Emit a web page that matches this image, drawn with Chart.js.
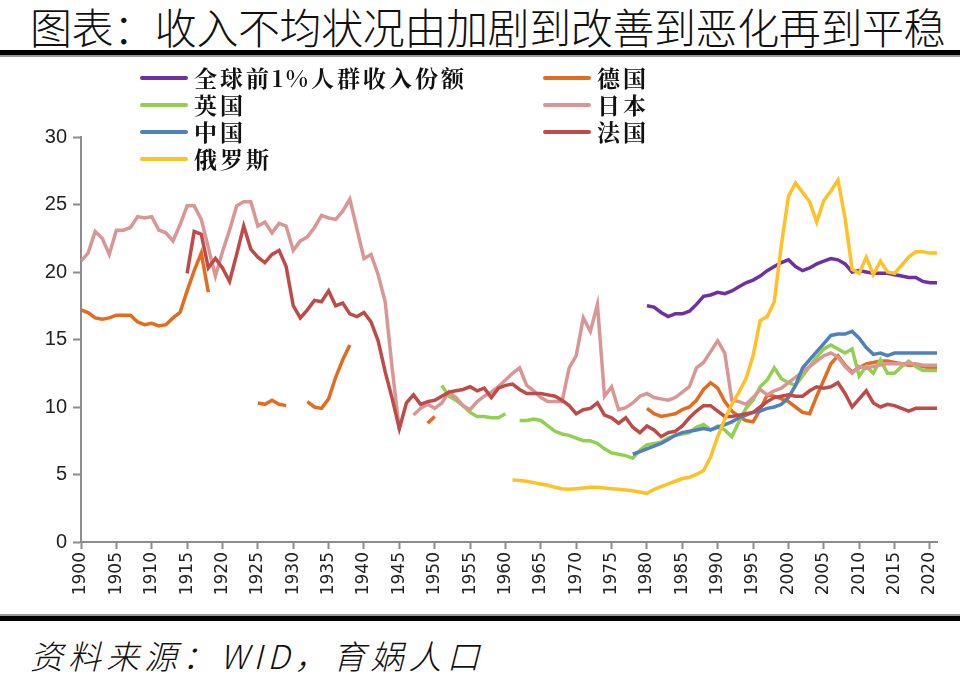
<!DOCTYPE html>
<html>
<head>
<meta charset="utf-8">
<script src="https://cdn.jsdelivr.net/npm/chart.js@4.4.0/dist/chart.umd.min.js"></script>
<style>
  html, body { margin: 0; padding: 0; background: #fff; }
  #page { position: relative; width: 960px; height: 678px; overflow: hidden; background: #fff; }
  #title { position: absolute; left: 30px; top: 5px; font: 300 42px/42px "Noto Sans CJK SC"; letter-spacing: -0.4px; white-space: nowrap; color: #111; }
  .bar { position: absolute; left: 0; width: 960px; }
  #chartBox { position: absolute; left: 0; top: 58px; width: 960px; height: 556px; }
  .lg { position: absolute; height: 26px; display: flex; align-items: center; white-space: nowrap;
        font: bold 23px/26px "Noto Serif CJK SC", "Noto Sans CJK SC"; letter-spacing: 3px; color: #111; }
  .lg i { display: inline-block; width: 48px; height: 4px; border-radius: 2px; margin-right: 6px; }
  #source { position: absolute; left: 30px; top: 635px; font: italic 300 33px/40px "Noto Sans CJK SC"; letter-spacing: 5px; white-space: nowrap; color: #111; }
</style>
</head>
<body>
<div id="page">
  <div id="title">图表：收入不均状况由加剧到改善到恶化再到平稳</div>
  <div class="bar" style="top:50px;height:5px;background:#000"></div>
  <div class="bar" style="top:55px;height:2px;background:#999"></div>
  <div id="chartBox"><canvas id="chart" width="960" height="556"></canvas></div>
  <div id="legend"></div>
  <div class="bar" style="top:614px;height:2px;background:#999"></div>
  <div class="bar" style="top:616px;height:5px;background:#000"></div>
  <div id="source">资料来源：WID，育娲人口</div>
</div>
<script>
// each series: [first year, values...] segments, gaps between segments
const globalTop1 = [[1980, [17.5, 17.4, 17.0, 16.7, 16.9, 16.9, 17.1, 17.6, 18.2, 18.3,
  18.5, 18.4, 18.6, 18.9, 19.2, 19.4, 19.7, 20.1, 20.4, 20.7,
  20.9, 20.4, 20.1, 20.3, 20.6, 20.8, 21.0, 20.9, 20.6, 20.0,
  20.1, 20.0, 19.9, 19.9, 19.9, 19.8, 19.7, 19.6, 19.6, 19.3,
  19.2, 19.2]]]

const germany = [
  [1900, [17.2, 17.0, 16.6, 16.5, 16.6, 16.8, 16.8, 16.8, 16.3, 16.1,
    16.2, 16.0, 16.1, 16.6, 17.0, 18.6, 20.1, 21.4, 18.5]],
  [1925, [10.3, 10.2, 10.5, 10.2, 10.1]],
  [1932, [10.4, 10.0, 9.9, 10.6, 12.2, 13.5, 14.6]],
  [1949, [8.8, 9.3]],
  [1980, [9.9, 9.5, 9.3, 9.4, 9.5, 9.8, 10.0, 10.5, 11.3, 11.8,
    11.4, 10.4, 9.7, 9.3, 9.0, 8.9, 9.8, 10.9, 10.8, 10.6,
    10.4, 10.0, 9.6, 9.5, 10.8, 12.0, 13.2, 13.8, 13.1, 12.6,
    12.9, 13.2, 13.3, 13.4, 13.4, 13.3, 13.2, 13.1, 13.1, 13.0,
    12.9, 12.9]]
]

const uk = [
  [1951, [11.6, 10.8, 10.5, 10.1, 9.6, 9.3, 9.3, 9.2, 9.2, 9.5]],
  [1962, [9.0, 9.0, 9.1, 9.0, 8.6, 8.2, 8.0, 7.9, 7.7, 7.5,
    7.5, 7.3, 6.9, 6.6, 6.5, 6.4, 6.2, 6.8, 7.2, 7.3,
    7.4, 7.7, 7.9, 8.0, 8.1, 8.5, 8.7, 8.3, 8.6, 8.3,
    7.8, 8.9, 9.9, 10.5, 11.5, 12.0, 12.9, 12.1, 11.8, 11.6,
    12.3, 13.0, 13.7, 14.3, 14.6, 14.3, 14.0, 14.3, 12.3, 13.0,
    12.5, 13.5, 12.5, 12.5, 13.0, 13.4, 13.0, 12.7, 12.7, 12.7]]
]

const japan = [
  [1900, [20.8, 21.4, 23.0, 22.5, 21.3, 23.1, 23.1, 23.3, 24.1, 24.0,
    24.1, 23.1, 22.9, 22.3, 23.5, 24.9, 24.9, 23.9, 21.8, 19.7,
    21.5, 23.1, 24.9, 25.2, 25.2, 23.4, 23.7, 22.9, 23.6, 23.4,
    21.6, 22.3, 22.6, 23.3, 24.2, 24.0, 23.9, 24.5, 25.4, 23.2,
    21.0, 21.3, 19.8, 17.8, 12.8, 8.3]],
  [1947, [9.4, 9.9, 10.2, 9.9, 10.3, 11.1, 10.7, 10.1, 9.8, 10.4,
    10.8, 11.1, 11.5, 12.0, 12.5, 12.9, 11.6, 11.2, 10.7, 10.4,
    10.4, 10.4, 12.9, 13.8, 16.6, 15.6, 17.6, 10.8, 11.5, 9.8,
    9.95, 10.3, 10.8, 11.0, 10.7, 10.6, 10.5, 10.7, 11.1, 11.5,
    12.9, 13.3, 14.1, 14.9, 14.0, 10.5, 10.4, 10.2, 10.7, 11.3,
    10.9, 11.2, 11.4, 11.8, 12.2, 12.6, 13.0, 13.4, 13.8, 14.0,
    13.7, 13.0, 12.5, 13.0, 12.9, 13.0, 13.1, 13.2, 13.2, 13.2,
    13.2, 13.2, 13.1, 13.1, 13.1]]
]

const china = [[1978, [6.5, 6.7, 6.9, 7.1, 7.3, 7.6, 7.9, 8.1, 8.2, 8.3,
  8.4, 8.3, 8.5, 8.7, 8.9, 9.2, 9.4, 9.6, 9.7, 9.9,
  10.0, 10.2, 10.7, 11.6, 12.9, 13.5, 14.1, 14.7, 15.3, 15.4,
  15.4, 15.6, 15.1, 14.4, 13.9, 14.0, 13.8, 14.0, 14.0, 14.0,
  14.0, 14.0, 14.0, 14.0]]]

const france = [[1915, [19.9, 23.0, 22.8, 20.3, 21.0, 20.3, 19.3, 21.3, 23.4, 21.7,
  21.1, 20.7, 21.3, 21.6, 20.4, 17.5, 16.6, 17.2, 17.9, 17.8,
  18.6, 17.5, 17.7, 16.9, 16.7, 17.0, 16.3, 14.9, 12.6, 10.6,
  8.4, 10.3, 10.9, 10.2, 10.4, 10.5, 10.8, 11.1, 11.2, 11.3,
  11.5, 11.2, 11.4, 10.7, 11.4, 11.6, 11.7, 11.3, 11.0, 11.0,
  11.0, 10.9, 10.8, 10.5, 10.1, 9.5, 9.8, 9.9, 10.3, 9.4,
  9.2, 8.8, 9.2, 8.5, 8.1, 8.6, 8.3, 7.8, 8.1, 8.2,
  8.6, 9.2, 9.7, 10.1, 10.1, 9.7, 9.3, 9.3, 9.4, 9.5,
  9.6, 10.0, 10.4, 10.7, 10.8, 10.9, 10.8, 10.8, 11.2, 11.5,
  11.4, 11.5, 11.8, 11.0, 10.0, 10.6, 11.2, 10.3, 10.0, 10.2,
  10.1, 9.9, 9.7, 9.9, 9.9, 9.9, 9.9]]]

const russia = [[1961, [4.6, 4.55, 4.5, 4.4, 4.3, 4.2, 4.05, 3.95, 3.9, 3.95,
  4.0, 4.05, 4.05, 4.0, 3.95, 3.9, 3.85, 3.8, 3.7, 3.6,
  3.9, 4.1, 4.3, 4.5, 4.7, 4.8, 5.0, 5.3, 6.3, 7.8,
  9.1, 10.2, 11.1, 12.1, 13.8, 16.4, 16.7, 17.8, 22.0, 25.6,
  26.6, 25.9, 25.2, 23.7, 25.3, 26.0, 26.8, 24.0, 20.2, 19.9,
  21.1, 19.8, 20.8, 20.0, 19.9, 20.5, 21.1, 21.5, 21.5, 21.4,
  21.4]]]

const seriesNames = ['全球前1%人群收入份额', '德国', '英国', '日本', '中国', '法国', '俄罗斯']
const seriesData = [globalTop1, germany, uk, japan, china, france, russia]
const seriesColors = ['#7030A0', '#E36C21', '#92D050', '#D99694', '#4F81BD', '#BE4B48', '#FFC125']

function toPoints(segments) {
  const pts = []
  segments.forEach(([start, vals], k) => {
    if (k > 0) pts.push({ x: start - 0.5, y: null })
    vals.forEach((v, i) => pts.push({ x: start + i, y: v }))
  })
  return pts
}

const axisGray = '#8c8c8c'

const chart = new Chart(document.getElementById('chart').getContext('2d'), {
  type: 'line',
  data: {
    datasets: seriesNames.map((name, i) => ({
      label: name,
      data: toPoints(seriesData[i]),
      borderColor: seriesColors[i],
      backgroundColor: seriesColors[i],
      borderWidth: 3.5,
      pointRadius: 0,
      tension: 0,
      spanGaps: false,
      order: seriesNames.length - i
    }))
  },
  options: {
    responsive: false,
    animation: false,
    layout: { padding: { top: 79, right: 23, left: 0, bottom: 0 } },
    plugins: { legend: { display: false }, tooltip: { enabled: false } },
    scales: {
      x: {
        type: 'linear',
        min: 1900,
        max: 2021,
        grid: { drawOnChartArea: false, tickLength: 7, tickColor: axisGray, tickWidth: 2 },
        border: { color: axisGray, width: 2 },
        ticks: {
          stepSize: 5,
          includeBounds: false,
          autoSkip: false,
          minRotation: 90,
          maxRotation: 90,
          padding: 3,
          color: '#222',
          font: { family: 'DejaVu Sans', size: 17 },
          callback: v => String(v)
        },
        afterFit: s => { s.height = 72 }
      },
      y: {
        min: 0,
        max: 30,
        grid: { drawOnChartArea: false, tickLength: 8, tickColor: axisGray, tickWidth: 2 },
        border: { color: axisGray, width: 2 },
        ticks: {
          stepSize: 5,
          padding: 6,
          color: '#222',
          font: { family: 'Liberation Sans', size: 20 }
        },
        afterFit: s => { s.width = 81 }
      }
    }
  }
})

// two-column legend like the original
const legend = document.getElementById('legend')
chart.data.datasets.forEach((ds, i) => {
  const item = document.createElement('div')
  item.className = 'lg'
  item.style.left = (140 + (i % 2) * 403) + 'px'
  item.style.top = (65 + Math.floor(i / 2) * 27) + 'px'
  item.innerHTML = '<i style="background:' + ds.borderColor + '"></i>' + ds.label
  legend.appendChild(item)
})
</script>
</body>
</html>
